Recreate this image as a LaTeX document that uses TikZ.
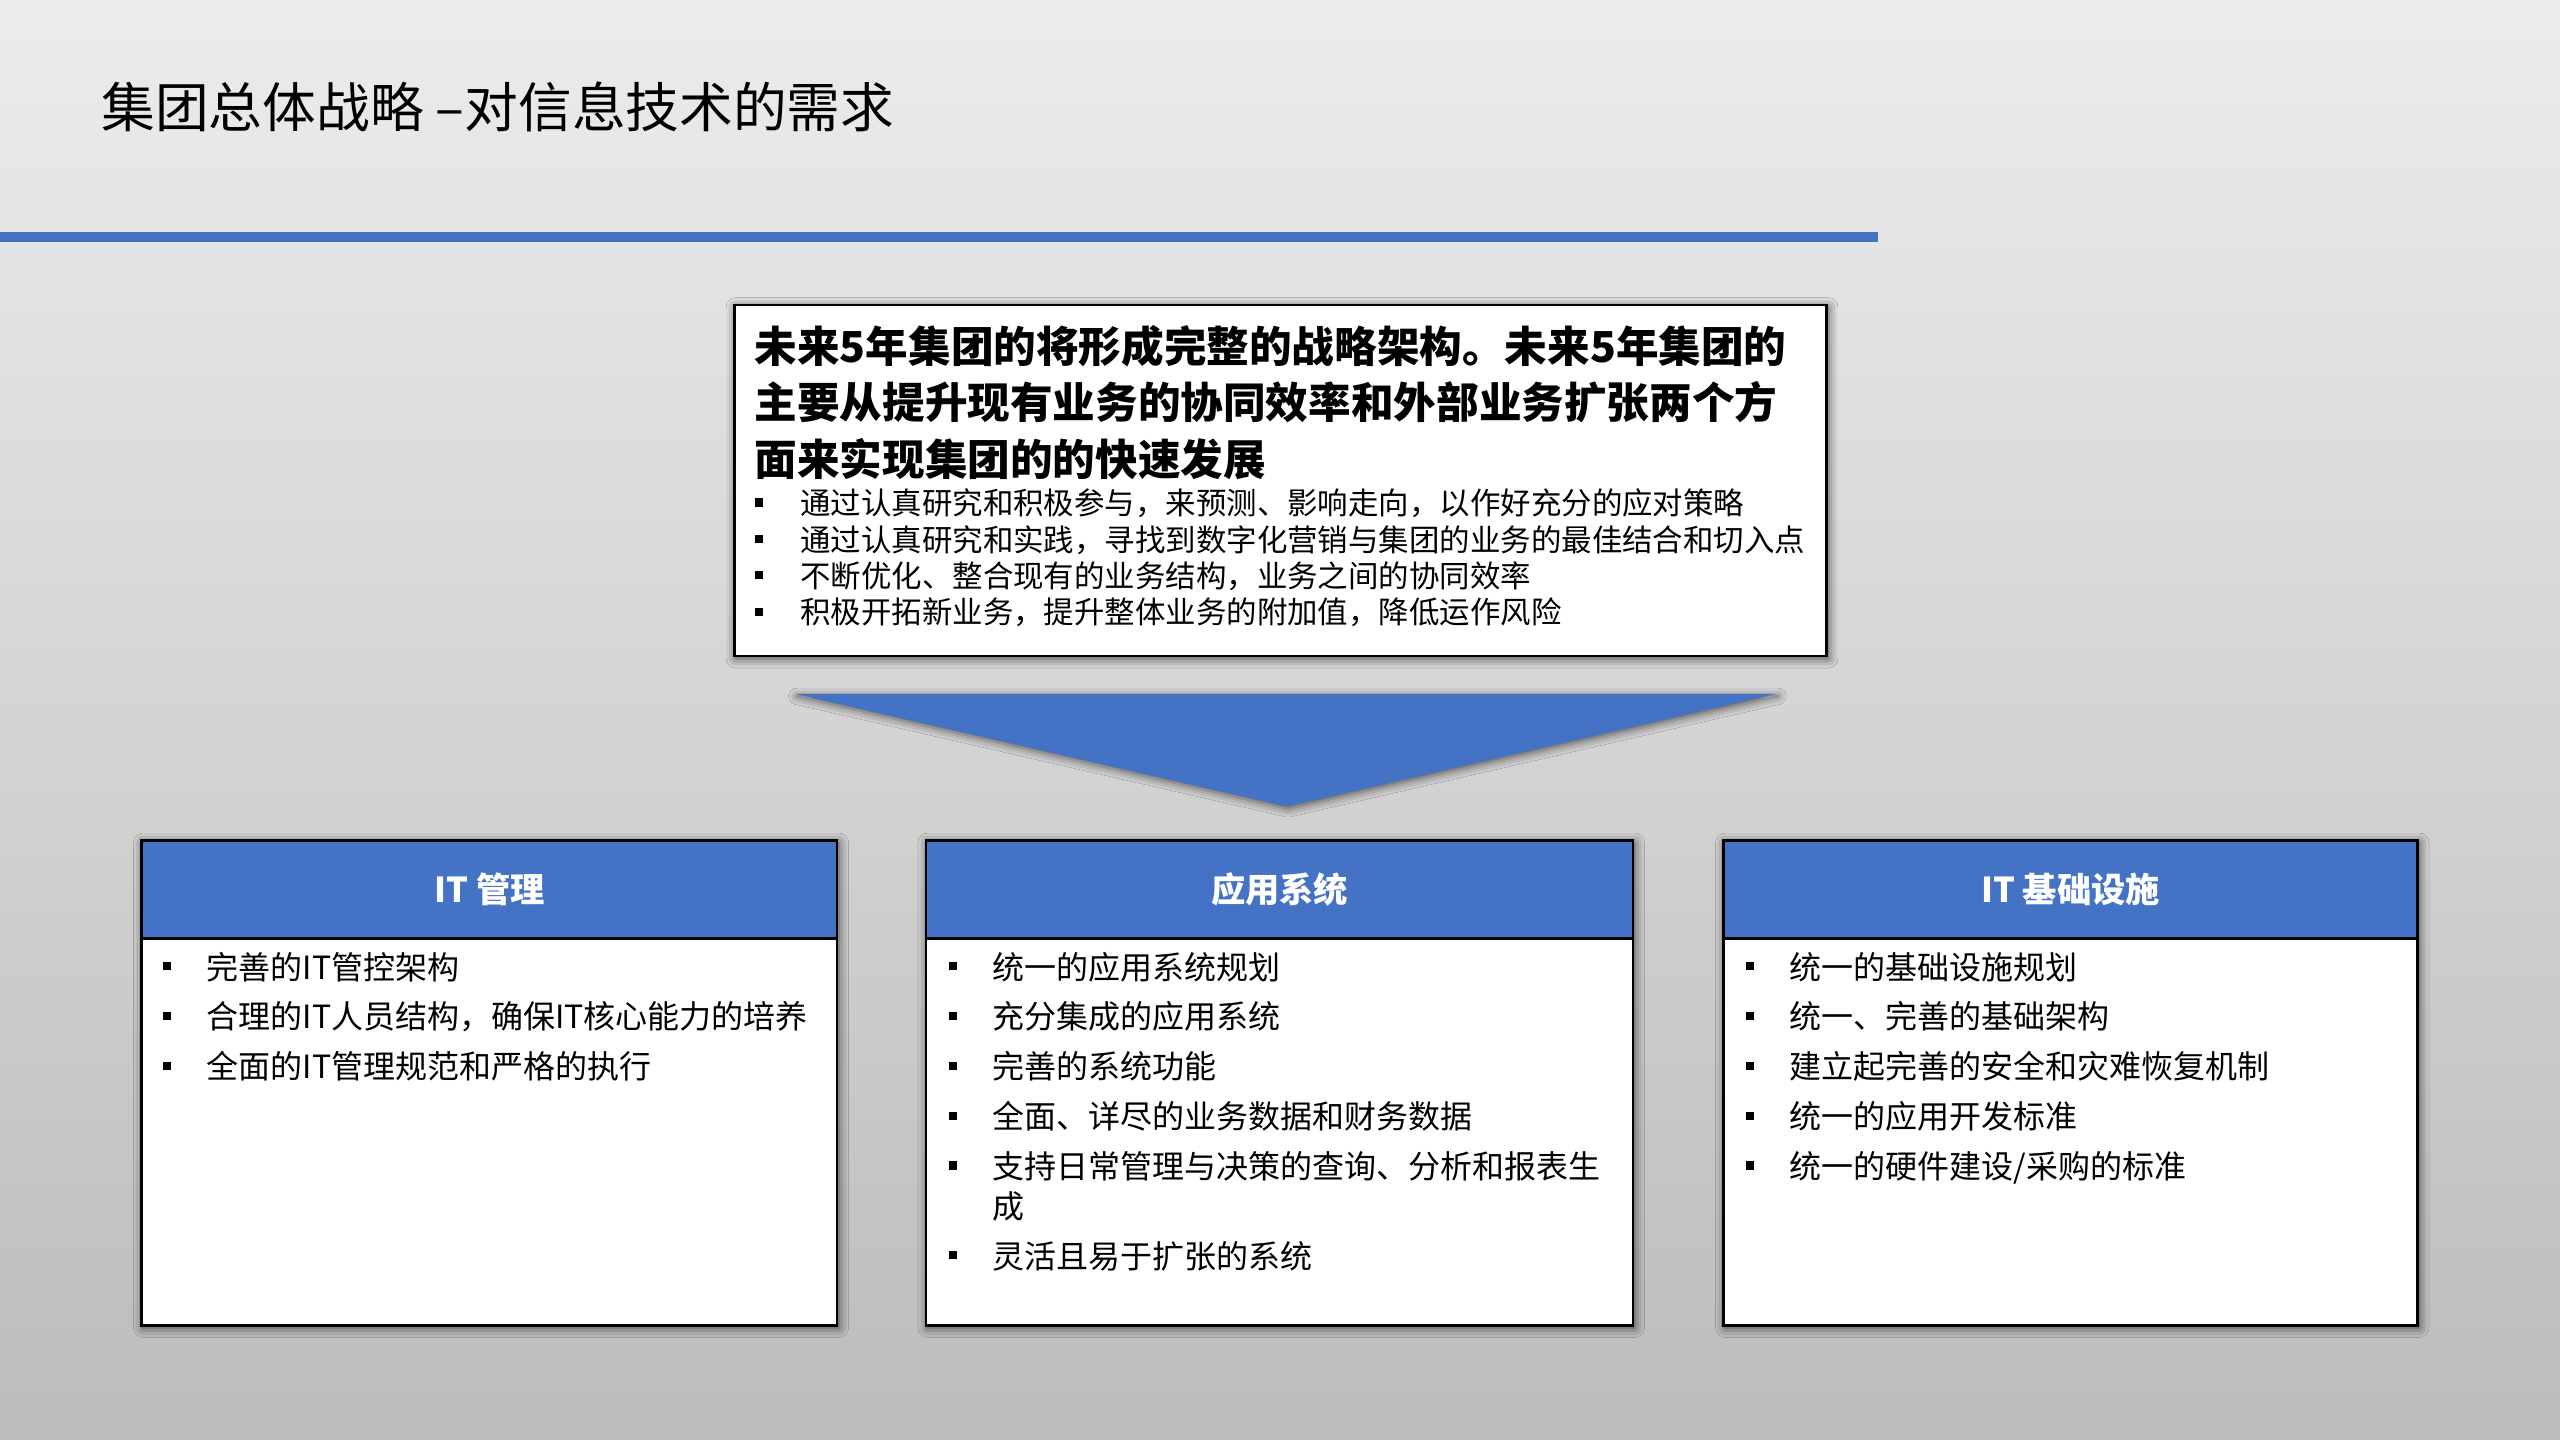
\documentclass[tikz,border=0pt]{standalone}
\usepackage{fontspec}
\setmainfont{Noto Sans CJK SC}
\usepackage{tikz}
\usetikzlibrary{positioning}
\usetikzlibrary{shadows.blur}
\definecolor{xanhbang}{RGB}{68,114,196}
\definecolor{nensang}{RGB}{236,236,236}
\definecolor{nentoi}{RGB}{188,188,188}
\newlength{\gianmuc}
\newcommand{\muc}[2][27pt]{\par\vspace{\gianmuc}\hangindent=#1\noindent\makebox[#1][l]{\raisebox{\dimexpr0.4em-2.5pt\relax}{\rule{5pt}{5pt}}}#2}
\newcommand{\chuduoi}{\fontsize{19.6}{24.5}\selectfont\setlength{\parskip}{0pt}\setlength{\gianmuc}{6pt}}
\begin{document}
\begin{tikzpicture}[x=1pt,y=-1pt,
	hop/.style={draw=black,line width=1.5pt,fill=white,inner sep=0pt,anchor=north west,
		blur shadow={shadow xshift=1pt,shadow yshift=-1.5pt,shadow blur radius=6pt,shadow opacity=70}},
	dau/.style={draw=black,line width=1.5pt,fill=xanhbang,text=white,inner sep=0pt,anchor=north west,
		font=\fontsize{21}{24}\selectfont\bfseries},
	chu/.style={inner sep=0pt,anchor=north west,align=left}]
				%\draw (0,0) grid (1568,882);
				\shade[top color=nensang,bottom color=nentoi] (0,0) rectangle (1568,882);
				\useasboundingbox (0,0) rectangle (1568,882);
				\node[anchor=base west,inner sep=0pt,font=\fontsize{32.9}{36}\selectfont] (tieude) at (62,78) {集团总体战略 –对信息技术的需求};
				\fill[xanhbang] (0,142) rectangle (1150,148);
				\node[hop,minimum width=669pt,minimum height=215pt] (khungtren) at (449,186) {};
				\node[chu,text width=645pt] (chutren) at (462,199) {\fontsize{26.1}{34.5}\selectfont\bfseries
					未来5年集团的将形成完整的战略架构。未来5年集团的\\主要从提升现有业务的协同效率和外部业务扩张两个方\\面来实现集团的的快速发展\par
					\vspace{2pt}\fontsize{18.65}{22.3}\selectfont\mdseries\setlength{\gianmuc}{0pt}
					\muc[28pt]{通过认真研究和积极参与，来预测、影响走向，以作好充分的应对策略}
					\muc[28pt]{通过认真研究和实践，寻找到数字化营销与集团的业务的最佳结合和切入点}
					\muc[28pt]{不断优化、整合现有的业务结构，业务之间的协同效率}
					\muc[28pt]{积极开拓新业务，提升整体业务的附加值，降低运作风险}\par};
				\fill[xanhbang,blur shadow={shadow xshift=1pt,shadow yshift=-1.5pt,shadow blur radius=5pt,shadow opacity=60}] (487,425) -- (1088,425) -- (788,494) -- cycle;
				\node[hop,minimum width=426pt,minimum height=297pt] (trai) at (86,514) {};
				\node[dau,minimum width=426pt,minimum height=60pt] (trai-dau) at (trai.north west) {IT 管理};
				\node[chu,text width=400pt] (trai-chu) at (99.5,569) {\chuduoi
					\muc{完善的IT管控架构}
					\muc{合理的IT人员结构，确保IT核心能力的培养}
					\muc{全面的IT管理规范和严格的执行}\par};
				\node[hop,minimum width=433pt,minimum height=297pt] (giua) at (566.5,514) {};
				\node[dau,minimum width=433pt,minimum height=60pt] (giua-dau) at (giua.north west) {应用系统};
				\node[chu,text width=400pt] (giua-chu) at (581,569) {\chuduoi
					\muc{统一的应用系统规划}
					\muc{充分集成的应用系统}
					\muc{完善的系统功能}
					\muc{全面、详尽的业务数据和财务数据}
					\muc{支持日常管理与决策的查询、分析和报表生\hfil\break 成}
					\muc{灵活且易于扩张的系统}\par};
				\node[hop,minimum width=425pt,minimum height=297pt] (phai) at (1055,514) {};
				\node[dau,minimum width=425pt,minimum height=60pt] (phai-dau) at (phai.north west) {IT 基础设施};
				\node[chu,text width=400pt] (phai-chu) at (1069,569) {\chuduoi
					\muc{统一的基础设施规划}
					\muc{统一、完善的基础架构}
					\muc{建立起完善的安全和灾难恢复机制}
					\muc{统一的应用开发标准}
					\muc{统一的硬件建设/采购的标准}\par};
			\end{tikzpicture}
\end{document}
